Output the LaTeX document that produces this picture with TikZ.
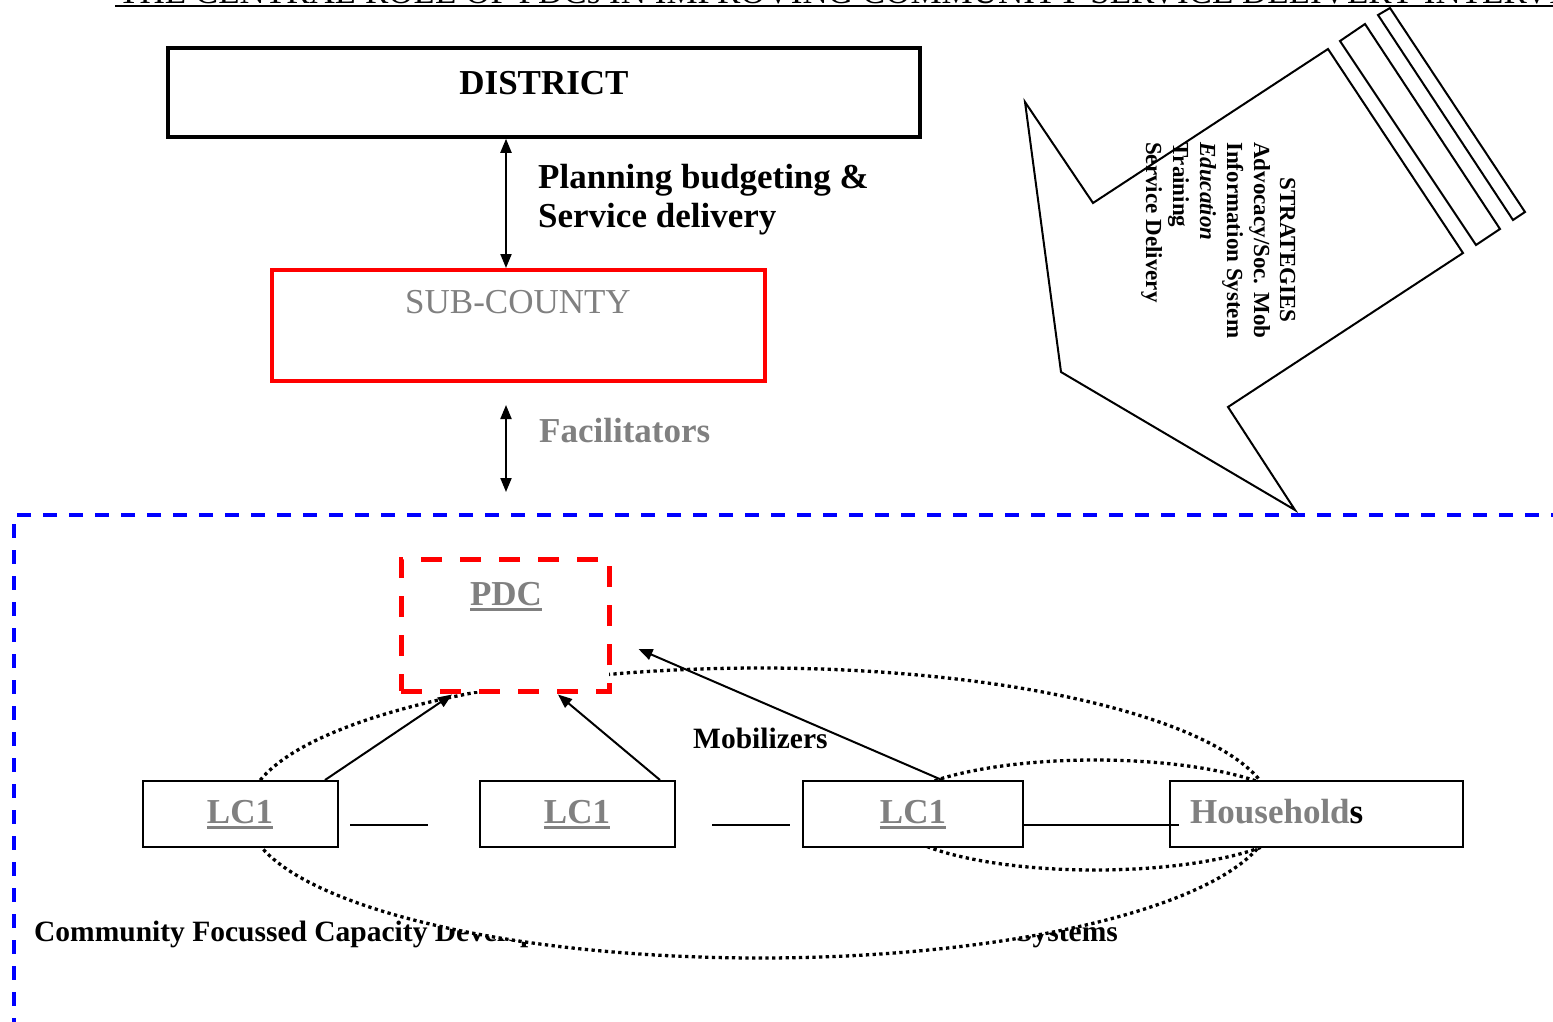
\documentclass[tikz,border=0pt]{standalone}
\usepackage{fontspec}
\setmainfont{Liberation Serif}
\usetikzlibrary{arrows.meta,calc}
\definecolor{txtgray}{HTML}{808080}
\newcommand\ulgray[1]{\setbox0\hbox{#1}\rlap{\color{txtgray}\rule[-6pt]{\wd0}{3pt}}\box0}
\begin{document}
\begin{tikzpicture}[x=1pt,y=-1pt,
  big/.style={font=\fontsize{35}{40}\selectfont, inner sep=0pt},
  bigb/.style={font=\fontsize{35}{40}\selectfont\bfseries, inner sep=0pt},
  midb/.style={font=\fontsize{29.5}{34}\selectfont\bfseries, inner sep=0pt},
  stxt/.style={font=\fontsize{23}{27}\selectfont\bfseries, inner sep=0pt, rotate=-90},
  conn/.style={line width=2pt},
  arr/.style={line width=2pt, -{Triangle[length=14pt,width=11pt]}},
  darr/.style={line width=2pt, {Triangle[length=14pt,width=11pt]}-{Triangle[length=14pt,width=11pt]}},
  dotline/.style={line width=3.3pt, dash pattern=on 3.3pt off 3.4pt},
  lcbox/.style={draw, line width=2pt, fill=white, inner sep=0pt, minimum height=66pt}
]
\useasboundingbox (0,0) rectangle (1553,1021);

% title (clipped at the top of the page)
\node[big, anchor=base west] (title) at (118,3.5) {THE CENTRAL ROLE OF PDCs IN IMPROVING COMMUNITY SERVICE DELIVERY INTERVENTIONS};
\draw[line width=2pt] ($(title.base west)+(-3,2.5)$) -- ($(title.base east)+(0,2.5)$);

% district
\node[draw, line width=3.5pt, minimum width=752pt, minimum height=89pt, inner sep=0pt] (district) at (544,92.5) {};
\node[bigb, anchor=base] (districtT) at (544,94) {DISTRICT};

% sub-county
\node[draw=red, line width=4pt, minimum width=493pt, minimum height=111pt, inner sep=0pt] (subcounty) at (518.5,325.5) {};
\node[big, text=txtgray, anchor=base] (subcountyT) at (518,313) {SUB-COUNTY};

\coordinate (ax) at (506,0);
\draw[darr] (district.south -| ax) -- (subcounty.north -| ax);
\node[bigb, anchor=base west] (plan1) at (538,188) {Planning budgeting \&};
\node[bigb, anchor=base west] (plan2) at (538,227) {Service delivery};

% facilitators
\coordinate (fa) at (506,405);
\coordinate (fb) at (506,492);
\draw[darr] (fa) -- (fb);
\node[bigb, text=txtgray, anchor=base west] (facil) at (539,442) {Facilitators};

% blue dashed frame
\draw[blue, line width=4pt, dash pattern=on 14pt off 12pt] (1565,515) -- (14,515) -- (14,1035);

% strategies block arrow
\draw[line width=2pt, fill=white] (1328,49) -- (1093,203) -- (1025,102) -- (1061,372) -- (1295,510) -- (1228,407) -- (1463,253) -- cycle;
\draw[line width=2pt] (1340,41) -- (1365,24) -- (1500,229) -- (1476,245) -- cycle;
\draw[line width=2pt] (1378,15) -- (1390,8) -- (1525,212) -- (1513,220) -- cycle;
\node[stxt, anchor=base] (st0) at (1280,250) {STRATEGIES};
\node[stxt, anchor=base west] (st1) at (1254,142) {Advocacy/Soc. Mob};
\node[stxt, anchor=base west] (st2) at (1227,142) {Information System};
\node[stxt, anchor=base west] (st3) at (1200,142) {\itshape Education};
\node[stxt, anchor=base west] (st4) at (1173,142) {Training};
\node[stxt, anchor=base west] (st5) at (1146,142) {Service Delivery};

% bottom caption (partly hidden behind the ellipse)
\node[midb, anchor=base west] (cap1) at (34,941) {Community Focussed Capacity Development};
\node[midb, anchor=base east] (cap2) at (1118,941) {Systems};

% ellipses
\draw[dotline, fill=white] (760,813) ellipse [x radius=513, y radius=145];
\draw[dotline] (1095,815) ellipse [x radius=205, y radius=55];

\node[midb, anchor=base west] (mob) at (693,748) {Mobilizers};

% boxes
\node[draw=red, fill=white, line width=5pt, dash pattern=on 21pt off 18pt, minimum width=208pt, minimum height=132pt, inner sep=0pt] (pdc) at (505,625) {};
\node[bigb, text=txtgray, anchor=base] (pdcT) at (506,605) {\ulgray{PDC}};

\node[lcbox, minimum width=195pt] (lc1a) at (240.5,814) {};
\node[lcbox, minimum width=195pt] (lc1b) at (577.5,814) {};
\node[lcbox, minimum width=220pt] (lc1c) at (913,814) {};
\node[lcbox, minimum width=293pt] (hh) at (1316.5,814) {};

\draw[arr] ([xshift=84.5pt]lc1a.north) -- ($(pdc.south)+(-53,1)$);
\draw[arr] ([xshift=82.5pt]lc1b.north) -- ($(pdc.south)+(53,1)$);
\draw[arr] ([xshift=29pt]lc1c.north) -- ($(pdc.east)+(27,24)$);

\node[bigb, text=txtgray, anchor=base] (lc1aT) at (240,823) {\ulgray{LC1}};
\node[bigb, text=txtgray, anchor=base] (lc1bT) at (577,823) {\ulgray{LC1}};
\node[bigb, text=txtgray, anchor=base] (lc1cT) at (913,823) {\ulgray{LC1}};
\node[bigb, anchor=base west] (hhT) at (1190,823) {\textcolor{txtgray}{Household}s};

\draw[conn] ($(lc1a.east)+(11,11)$) -- ($(lc1b.west)+(-51,11)$);
\draw[conn] ($(lc1b.east)+(36,11)$) -- ($(lc1c.west)+(-12,11)$);
\draw[conn] ($(lc1c.east)+(0,11)$) -- ($(hh.west)+(10,11)$);
\end{tikzpicture}
\end{document}
